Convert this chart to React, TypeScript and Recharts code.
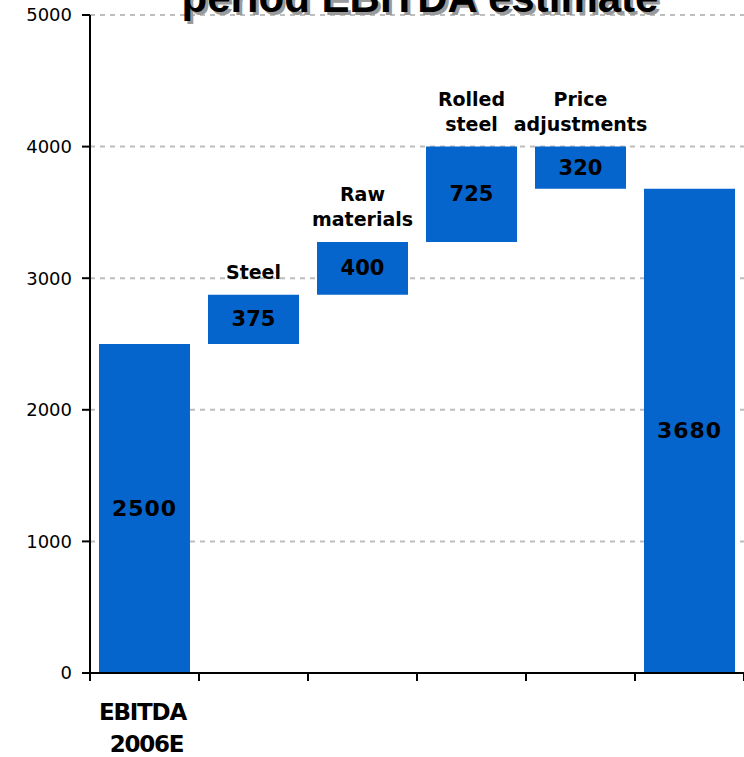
import React from 'react';
import { BarChart, Bar, XAxis, YAxis, CartesianGrid, LabelList } from 'recharts';

const categories = ['EBITDA 2006E', 'Steel', 'Raw materials', 'Rolled steel', 'Price adjustments', 'EBITDA'];
const axisLabels = [['EBITDA', '2006E'], [], [], [], [], []];
const stepLabels = [[], ['Steel'], ['Raw', 'materials'], ['Rolled', 'steel'], ['Price', 'adjustments'], []];
const values = [2500, 375, 400, 725, -320, 3680];
const kinds = ['total', 'step', 'step', 'step', 'step', 'total'];
const yTicks = [0, 1000, 2000, 3000, 4000, 5000];

const W = 800;
const H = 757;
const M = { top: 15, right: 56, left: 0, bottom: 0 };
const Y_W = 90;
const band = (W - M.right - Y_W) / categories.length;
const BLUE = '#0565cc';
const FONT = '"DejaVu Sans", Verdana, sans-serif';

// running total -> invisible base + visible piece
let running = 0;
const data = categories.map((name, i) => {
  const v = values[i];
  let base = 0;
  if (kinds[i] === 'total') {
    running = v;
  } else if (v >= 0) {
    base = running;
    running += v;
  } else {
    running += v;
    base = running;
  }
  return { name, base, size: Math.abs(v) };
});

const XTick = (props: any) => {
  const { x, y, index } = props;
  const lines = axisLabels[index] || [];
  const left = x - band / 2;
  return (
    <g>
      <line x1={left} y1={y} x2={left} y2={y + 8} stroke="#000" strokeWidth={2} />
      {index === categories.length - 1 && (
        <line x1={x + band / 2} y1={y} x2={x + band / 2} y2={y + 8} stroke="#000" strokeWidth={2} />
      )}
      {lines.map((l: string, k: number) => (
        <text key={k} x={x + (k === 0 ? -2 : 2)} y={y + 47 + k * 32} textAnchor="middle"
          fontFamily={FONT} fontWeight="bold" fontSize={23} letterSpacing={-1.2} fill="#000">
          {l}
        </text>
      ))}
    </g>
  );
};

const BarLabel = (props: any) => {
  const { x, y, width, height, index, value } = props;
  const lines = stepLabels[index] || [];
  const isTotal = kinds[index] === 'total';
  return (
    <g>
      <text x={x + width / 2} y={y + height / 2} textAnchor="middle" dominantBaseline="central"
        fontFamily={FONT} fontWeight="bold" fontSize={isTotal ? 22 : 21}
        letterSpacing={isTotal ? 1 : 0} fill="#000">
        {value}
      </text>
      {lines.map((l: string, k: number) => (
        <text key={k} x={x + width / 2} y={y - 16 - (lines.length - 1 - k) * 25} textAnchor="middle"
          fontFamily={FONT} fontWeight="bold" fontSize={19} fill="#000">
          {l}
        </text>
      ))}
    </g>
  );
};

export default function App() {
  return (
    <div style={{ position: 'fixed', left: 0, top: 0, width: 744, height: 757, overflow: 'hidden', background: '#fff' }}>
      <BarChart width={W} height={H} data={data} margin={M} barSize={91}>
        <CartesianGrid vertical={false} stroke="#bdbdbd" strokeWidth={2} strokeDasharray="5 5" />
        <XAxis dataKey="name" height={84} interval={0} tickLine={false} tickSize={0} tickMargin={0}
          axisLine={{ stroke: '#000', strokeWidth: 2 }} tick={<XTick />} />
        <YAxis width={Y_W} domain={[0, 5000]} ticks={yTicks} tickSize={8} tickMargin={10}
          axisLine={{ stroke: '#000', strokeWidth: 2 }} tickLine={{ stroke: '#000', strokeWidth: 2 }}
          tick={{ fill: '#000', fontSize: 18, fontFamily: FONT }} />
        <Bar dataKey="base" stackId="w" fill="transparent" isAnimationActive={false} />
        <Bar dataKey="size" stackId="w" fill={BLUE} isAnimationActive={false}>
          <LabelList dataKey="size" content={<BarLabel />} />
        </Bar>
      </BarChart>
      <svg width={744} height={60} style={{ position: 'absolute', left: 0, top: 0, pointerEvents: 'none' }}>
        <text x={423} y={15} textAnchor="middle" fontFamily='"Liberation Sans", Arial, sans-serif'
          fontWeight="bold" fontSize={42} fill="#9a9a9a">period EBITDA estimate</text>
        <text x={420} y={12} textAnchor="middle" fontFamily='"Liberation Sans", Arial, sans-serif'
          fontWeight="bold" fontSize={42} fill="#000">period EBITDA estimate</text>
      </svg>
    </div>
  );
}
